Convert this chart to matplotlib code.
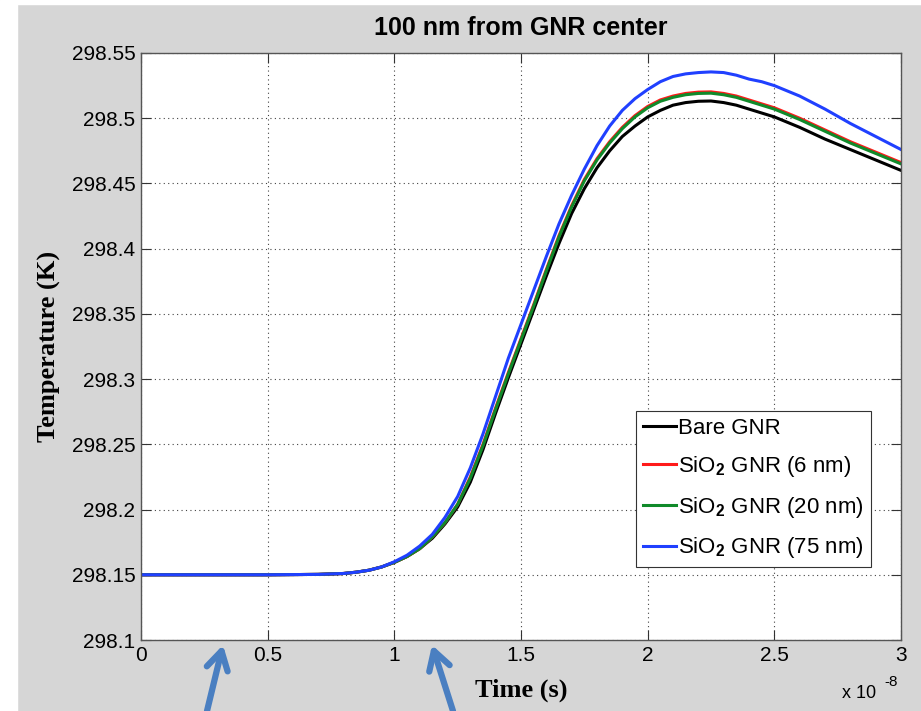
import numpy as np
import matplotlib
matplotlib.use("Agg")
import matplotlib.pyplot as plt
from matplotlib.patches import Rectangle, ArrowStyle

plt.rcParams['font.family'] = ['Liberation Sans', 'DejaVu Sans']
plt.rcParams['mathtext.fontset'] = 'custom'
plt.rcParams['mathtext.rm'] = 'Liberation Sans'
plt.rcParams['mathtext.bf'] = 'Liberation Sans:bold'

# time in units of 1e-8 s
t = [0, 0.25, 0.5, 0.7, 0.8, 0.85, 0.9, 0.95, 1.0, 1.05, 1.1, 1.15,
     1.2, 1.25, 1.3, 1.35, 1.4, 1.45, 1.5, 1.55, 1.6, 1.65, 1.7, 1.75, 1.8, 1.85,
     1.9, 1.95, 2.0, 2.05, 2.1, 2.15, 2.2, 2.25, 2.3, 2.35, 2.4, 2.45, 2.5,
     2.6, 2.7, 2.8, 2.9, 3.0]

bare = [298.150, 298.150, 298.150, 298.1503, 298.151, 298.152, 298.1535, 298.156, 298.1595, 298.164, 298.170, 298.178,
        298.189, 298.202, 298.221, 298.246, 298.274, 298.301, 298.327, 298.353, 298.379, 298.404, 298.427, 298.446, 298.462,
        298.475, 298.486, 298.494, 298.501, 298.506, 298.510, 298.512, 298.513, 298.5132, 298.512, 298.510, 298.507, 298.504,
        298.501, 298.493, 298.484, 298.476, 298.468, 298.460]
sio2_6 = [298.150, 298.150, 298.150, 298.1503, 298.151, 298.152, 298.1535, 298.156, 298.1595, 298.164, 298.170, 298.179,
          298.190, 298.204, 298.225, 298.250, 298.278, 298.305, 298.331, 298.357, 298.384, 298.410, 298.433, 298.453, 298.469,
          298.482, 298.493, 298.502, 298.509, 298.514, 298.517, 298.519, 298.520, 298.5202, 298.519, 298.517, 298.514, 298.511,
          298.508, 298.500, 298.491, 298.482, 298.474, 298.466]
sio2_20 = [298.150, 298.150, 298.150, 298.1503, 298.151, 298.152, 298.1535, 298.156, 298.1595, 298.164, 298.170, 298.179,
           298.190, 298.204, 298.224, 298.249, 298.277, 298.304, 298.330, 298.356, 298.383, 298.409, 298.432, 298.452, 298.468,
           298.481, 298.492, 298.501, 298.508, 298.513, 298.516, 298.518, 298.519, 298.5192, 298.518, 298.516, 298.513, 298.510,
           298.507, 298.499, 298.490, 298.481, 298.473, 298.465]
sio2_75 = [298.150, 298.150, 298.150, 298.1503, 298.151, 298.152, 298.1535, 298.156, 298.160, 298.165, 298.172, 298.181,
           298.194, 298.210, 298.232, 298.258, 298.287, 298.316, 298.342, 298.368, 298.394, 298.419, 298.441, 298.461, 298.479,
           298.494, 298.506, 298.515, 298.522, 298.528, 298.532, 298.534, 298.535, 298.5355, 298.535, 298.533, 298.530, 298.528,
           298.525, 298.517, 298.507, 298.496, 298.486, 298.476]

labels = ['Bare GNR', r'SiO$_{\mathbf{2}}$ GNR (6 nm)',
          r'SiO$_{\mathbf{2}}$ GNR (20 nm)', r'SiO$_{\mathbf{2}}$ GNR (75 nm)']
colors = ['black', '#ff1a1a', '#108a2a', '#2040ff']

xticks = [0, 0.5, 1, 1.5, 2, 2.5, 3]
yticks = [298.1, 298.15, 298.2, 298.25, 298.3, 298.35, 298.4, 298.45, 298.5, 298.55]

fig = plt.figure(figsize=(9.21, 7.11), dpi=100, facecolor='#d6d6d6')
# white strips of the screenshot edges
fig.patches.append(Rectangle((0, 0), 17/921, 1, transform=fig.transFigure, color='white', zorder=0))
fig.patches.append(Rectangle((0, 1 - 4/711), 1, 4/711, transform=fig.transFigure, color='white', zorder=0))

ax = fig.add_axes([141/921, 71/711, 760/921, 587/711])
ax.set_facecolor('white')
for y, c, lab in zip([bare, sio2_6, sio2_20, sio2_75], colors, labels):
    ax.plot(t, y, color=c, lw=2.2, label=lab)

ax.set_xlim(0, 3)
ax.set_ylim(298.1, 298.55)
ax.set_xticks(xticks)
ax.set_xticklabels(['%g' % v for v in xticks])
ax.set_yticks(yticks)
ax.set_yticklabels(['%g' % v for v in yticks])
ax.tick_params(direction='in', length=7, width=0.8, top=True, right=True,
               labelsize=15, pad=4, color='#333333')
ax.grid(True, color='#444444', linestyle=(0, (1, 3)), lw=0.8)
for s in ax.spines.values():
    s.set_color('#555555'); s.set_linewidth(1.0)

ax.set_title('100 nm from GNR center', fontsize=18, fontweight='bold', pad=13)
ax.set_xlabel('Time (s)', family=['Liberation Serif'], fontweight='bold', fontsize=19, labelpad=10)
ax.set_ylabel('Temperature (K)', family=['Liberation Serif'], fontweight='bold', fontsize=19, labelpad=8)
fig.text(842/921, 1 - 698/711, 'x 10', fontsize=13)
fig.text(884/921, 1 - 686/711, '-8', fontsize=11)

leg = ax.legend(loc='lower left', bbox_to_anchor=(636/921, 144/711), bbox_transform=fig.transFigure,
                borderaxespad=0, fontsize=16, handlelength=1.5, handletextpad=0.1,
                labelspacing=0.7, borderpad=0.3, fancybox=False, framealpha=1)
leg.get_frame().set_edgecolor('#333333')
leg.get_frame().set_linewidth(0.8)

# blue annotation arrows from the slide
astyle = ArrowStyle('->', head_length=0.6, head_width=0.35)
for tip, tail in [((223, 711 - 645), (207, 0)), ((432, 711 - 645), (453, 0))]:
    ax.annotate('', xy=tip, xycoords='figure pixels', xytext=tail, textcoords='figure pixels',
                arrowprops=dict(arrowstyle=astyle, color='#4a7fc1', lw=4.5, mutation_scale=22,
                                shrinkA=0, shrinkB=0),
                annotation_clip=False)

fig.savefig('out.png', dpi=100, facecolor=fig.get_facecolor())
